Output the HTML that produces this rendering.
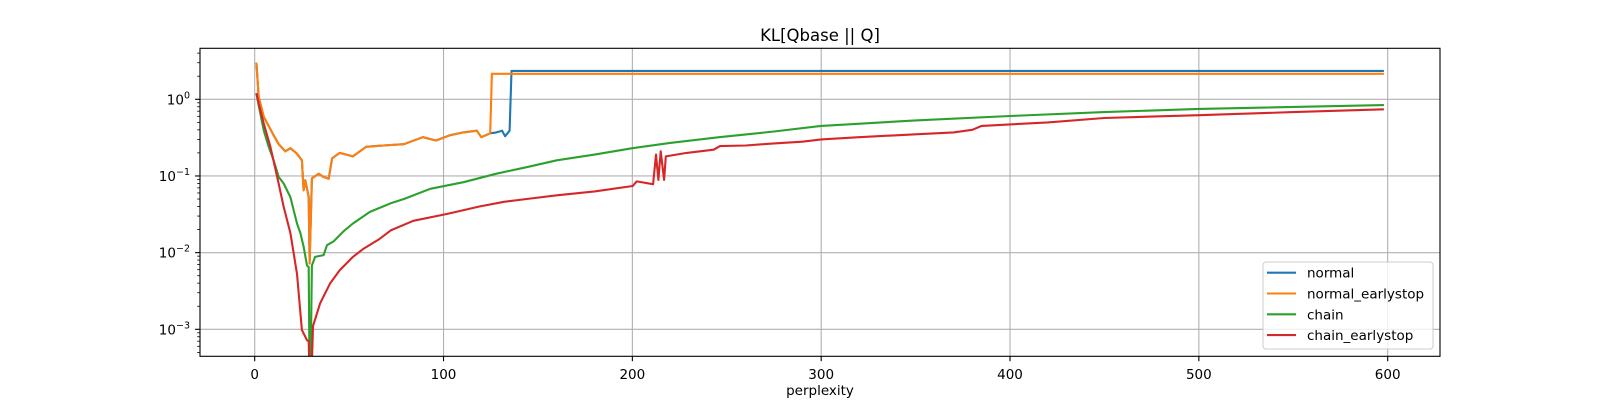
<!DOCTYPE html>
<html><head><meta charset="utf-8"><style>
html,body{margin:0;padding:0;background:#fff;}
svg{display:block;font-family:"DejaVu Sans","Liberation Sans",sans-serif;}
</style></head><body>
<svg id="chart" width="1600" height="400" viewBox="0 0 1600 400">
<defs><clipPath id="plotclip"><rect x="200" y="48.3" width="1240" height="308"/></clipPath></defs>
<rect x="0" y="0" width="1600" height="400" fill="#fff"/>
<text x="820" y="41" text-anchor="middle" font-size="16.5" fill="#000">KL[Qbase || Q]</text>
<g id="grid"></g>
<g id="series" clip-path="url(#plotclip)"></g>
<rect x="200" y="48.3" width="1240" height="308" fill="none" stroke="#000" stroke-width="1.1"/>
<g id="axes"></g>
<text x="820" y="395" text-anchor="middle" font-size="13.5" fill="#000">perplexity</text>
<g id="legend"></g>
</svg>
<script>
const xTicks = [0,100,200,300,400,500,600];
const yTickExp = [-3,-2,-1,0];
const seriesNames = ["normal","normal_earlystop","chain","chain_earlystop"];
const seriesColors = ["#1f77b4","#ff7f0e","#2ca02c","#d62728"];

const sharedX = [0.9,2.1,4.8,10,12.7,16.2,18.9,22.4,25,25.9,26.8,28.6,29.1,30.3,33.9,36.5,39.2,41,45,52,59,68,79,89,96,103.5,110.6,117.6,120,124.7];
const sharedY = [3.0,1.07,0.59,0.34,0.26,0.21,0.23,0.195,0.16,0.065,0.088,0.053,0.0072,0.093,0.107,0.097,0.092,0.17,0.2,0.18,0.24,0.25,0.26,0.32,0.29,0.34,0.37,0.39,0.32,0.36];

const normalX = sharedX.concat([128,131,132.6,135,136,598]);
const normalY = sharedY.concat([0.37,0.39,0.33,0.39,2.35,2.35]);

const normalEsX = sharedX.concat([125.6,598]);
const normalEsY = sharedY.concat([2.15,2.15]);

const chainX = [0.9,2.1,4.8,7.4,10,12.7,15.3,18.9,22.4,24.2,25.9,27.7,28.6,29.0,29.6,30.3,32,36.5,38.3,41.8,47,52,61,72,79,93,110.6,128,144,160,180,200,220,246,275,300,350,400,450,500,598];
const chainY = [1.2,0.83,0.39,0.24,0.16,0.097,0.08,0.053,0.024,0.018,0.012,0.0068,0.0065,0.0003,0.0003,0.0068,0.0088,0.0093,0.0125,0.014,0.019,0.024,0.034,0.044,0.05,0.068,0.083,0.107,0.13,0.16,0.19,0.23,0.27,0.32,0.38,0.45,0.53,0.605,0.68,0.75,0.84];

const chainEsX = [0.9,2.1,4.8,8.3,11.8,15.3,18.9,22.4,25,27.7,28.6,29,30.2,30.9,34.7,40,45,52,57.7,66,72,84,102,119,132,144,160,180,200.2,202.3,211,212.5,213.8,215,216.8,217.7,228.8,243,246.4,260,275,290,300,320,350,370,380,385,400,420,450,500,550,598];
const chainEsY = [1.2,0.88,0.48,0.24,0.10,0.04,0.018,0.0053,0.00098,0.00072,0.0007,0.0003,0.0003,0.0011,0.0022,0.004,0.0059,0.0088,0.0113,0.015,0.0195,0.026,0.032,0.04,0.046,0.05,0.056,0.063,0.074,0.085,0.078,0.19,0.089,0.21,0.089,0.18,0.2,0.22,0.245,0.25,0.266,0.28,0.30,0.32,0.35,0.37,0.40,0.45,0.47,0.50,0.57,0.62,0.68,0.74];

const allX = [normalX,normalEsX,chainX,chainEsX];
const allY = [normalY,normalEsY,chainY,chainEsY];

const NS = "http://www.w3.org/2000/svg";
const X0 = 254.7, XS = 1.8883;
const Y0 = 99.3, YD = 76.67;
function xPos(v){ return X0 + XS*v; }
function yPos(v){ return Y0 - YD*Math.log10(v); }
function mk(tag, attrs, parent){
  const e = document.createElementNS(NS, tag);
  for (const k in attrs) e.setAttribute(k, attrs[k]);
  parent.appendChild(e);
  return e;
}
const grid = document.getElementById('grid');
const axes = document.getElementById('axes');
const series = document.getElementById('series');
const legend = document.getElementById('legend');

xTicks.forEach(t => {
  const x = xPos(t);
  const g = mk('line',{x1:x,x2:x,y1:48.3,y2:356.3,stroke:'#b0b0b0','stroke-width':1.1},grid);
  
  
  const tk = mk('line',{x1:x,x2:x,y1:356.3,y2:361.2,stroke:'#000','stroke-width':1.1},axes);
  
  
  const lb = mk('text',{x:x,y:379,'text-anchor':'middle','font-size':13.5,fill:'#000'},axes);
  lb.textContent = String(t);
  
  
});
yTickExp.forEach(p => {
  const y = yPos(Math.pow(10,p));
  const g = mk('line',{x1:200,x2:1440,y1:y,y2:y,stroke:'#b0b0b0','stroke-width':1.1},grid);
  
  
  const tk = mk('line',{x1:195.1,x2:200,y1:y,y2:y,stroke:'#000','stroke-width':1.1},axes);
  
  
  const lb = mk('text',{x:190,y:y+5,'text-anchor':'end','font-size':13.5,fill:'#000'},axes);
  
  
  const b = document.createElementNS(NS,'tspan'); b.textContent='10'; lb.appendChild(b);
  const s = document.createElementNS(NS,'tspan'); s.setAttribute('dy','-6'); s.setAttribute('font-size','9.5'); s.textContent = p===0 ? '0' : '\u2212'+(-p); lb.appendChild(s);
});
for (let p=-4; p<=0; p++){
  for (let m=2; m<=9; m++){
    const y = yPos(m*Math.pow(10,p));
    if (y < 48.3 || y > 356.3) continue;
    const tk = mk('line',{x1:197.2,x2:200,y1:y,y2:y,stroke:'#000','stroke-width':0.8},axes);
    
    
  }
}
allX.forEach((xs,i) => {
  const pts = xs.map((x,j) => xPos(x).toFixed(1)+','+yPos(allY[i][j]).toFixed(1)).join(' ');
  const pl = mk('polyline',{points:pts,fill:'none',stroke:seriesColors[i],'stroke-width':2.1,'stroke-linejoin':'round'},series);
  
  
});
const lbx = mk('rect',{x:1263,y:262,width:170,height:87,rx:3,fill:'#fff','fill-opacity':0.8,stroke:'#ccc','stroke-width':1},legend);


seriesNames.forEach((n,i) => {
  const y = 272.7 + i*20.8;
  const ln = mk('line',{x1:1267,x2:1296,y1:y,y2:y,stroke:seriesColors[i],'stroke-width':2.1},legend);
  
  
  const t = mk('text',{x:1307,y:y+5,'font-size':13.5,fill:'#000'},legend);
  t.textContent = n;
  
  
});
</script>
</body></html>
